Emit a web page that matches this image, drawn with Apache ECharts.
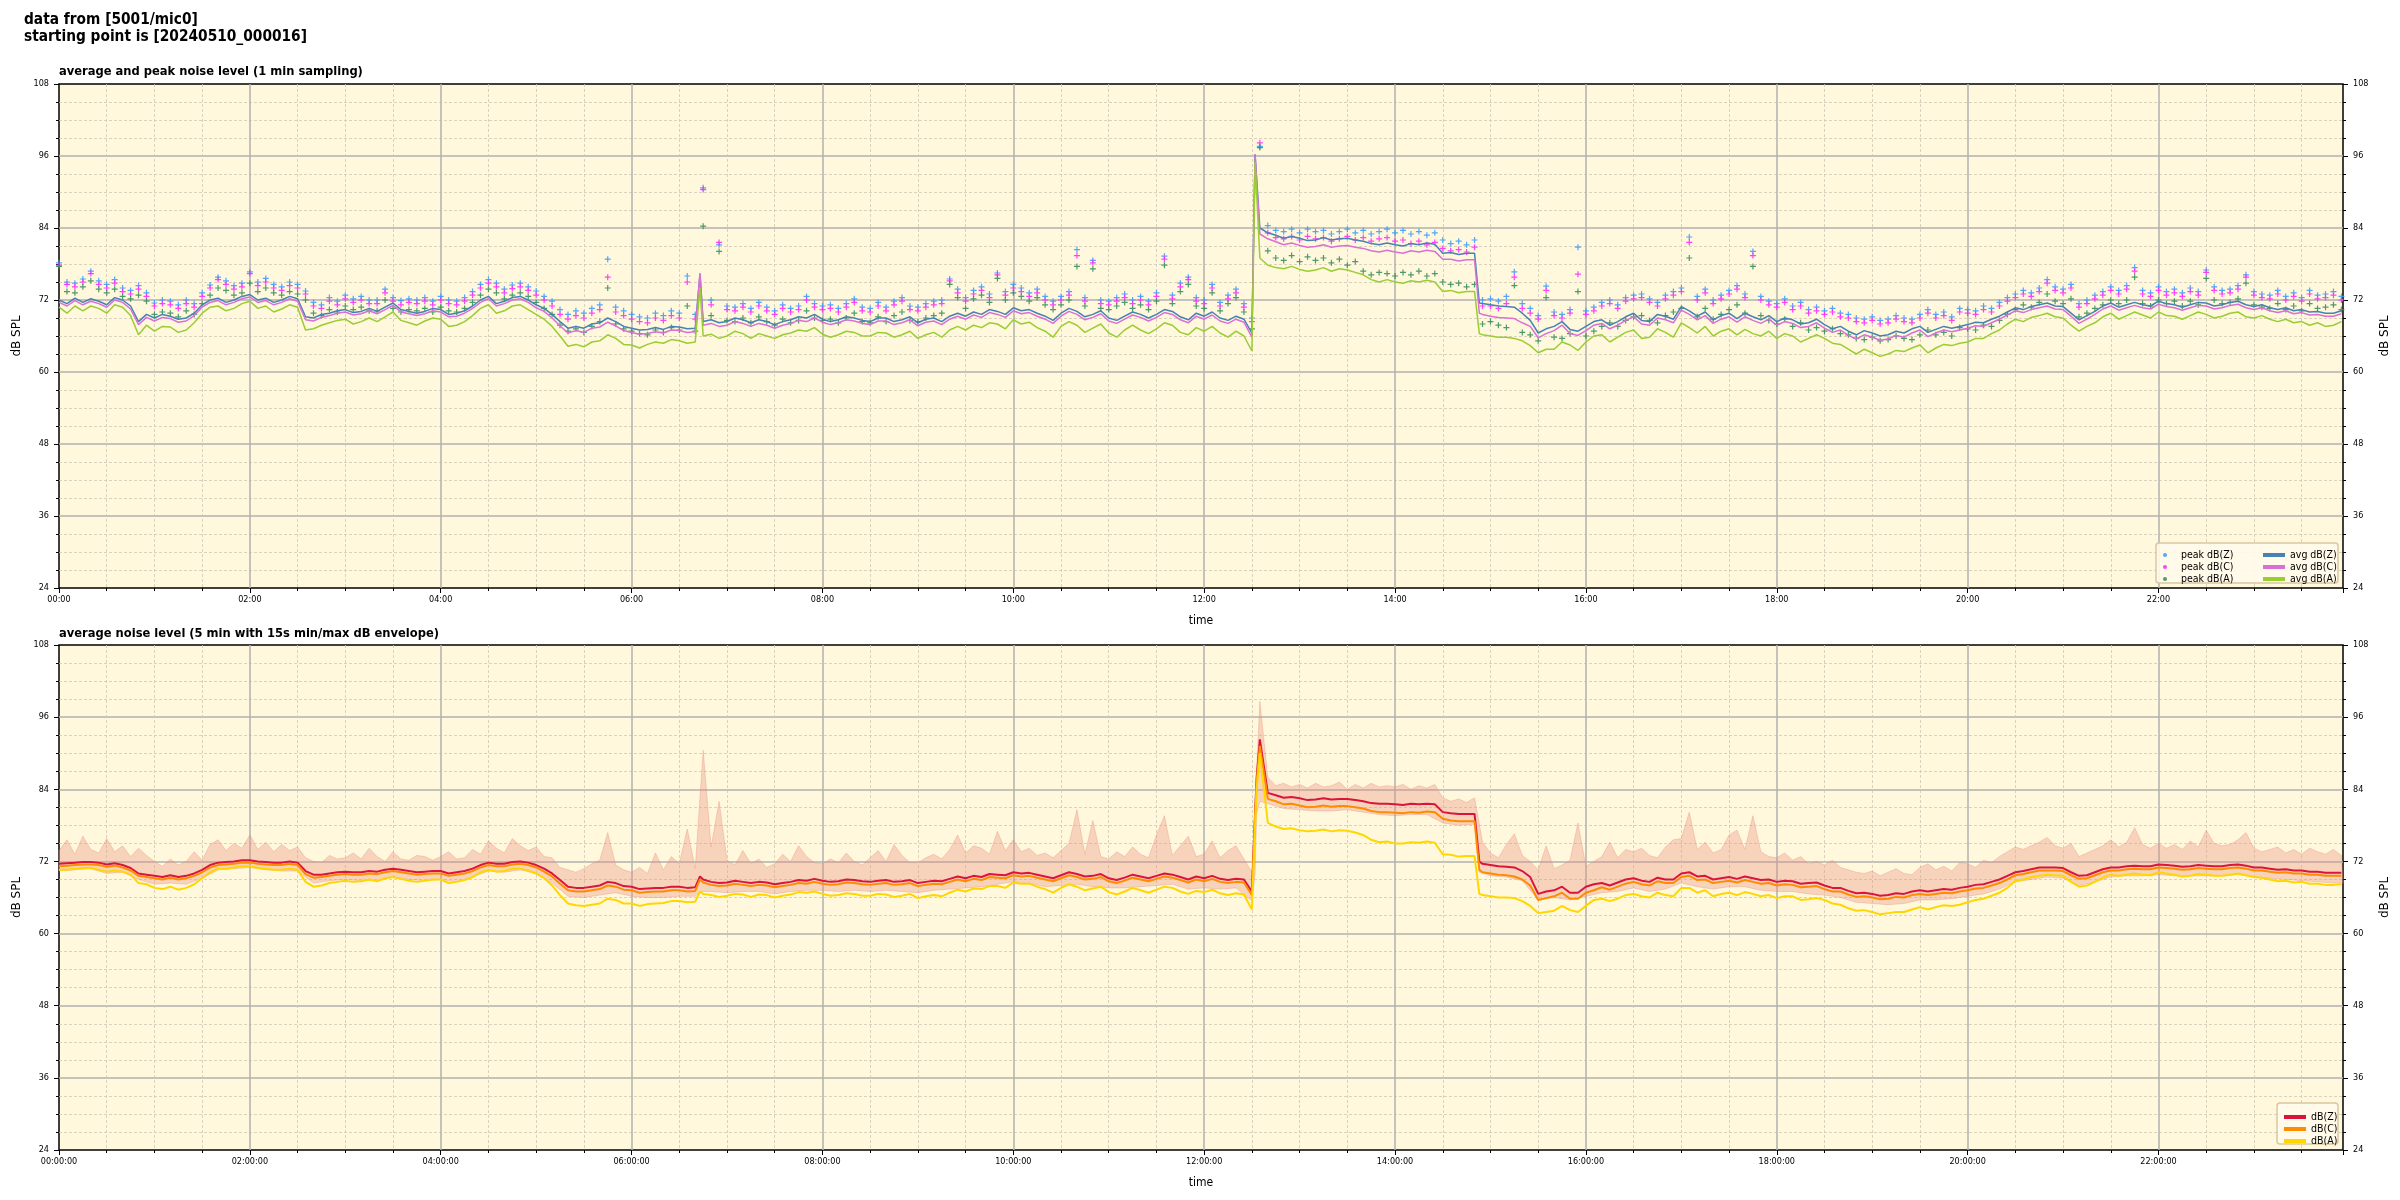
<!DOCTYPE html>
<html><head><meta charset="utf-8">
<script src="https://cdn.jsdelivr.net/npm/echarts@6/dist/echarts.min.js"></script>
<style>html,body{margin:0;padding:0;background:#fff}#c{width:2400px;height:1200px}</style>
</head><body><div id="c"></div>
<script>
// ---- sample times, minutes since 00:00 (every 5 min + a few event samples)
const TT = [0,5,10,15,20,25,30,35,40,45,50,55,
60,65,70,75,80,85,90,95,100,105,110,115,
120,125,130,135,140,145,150,155,160,165,170,175,
180,185,190,195,200,205,210,215,220,225,230,235,
240,245,250,255,260,265,270,275,280,285,290,295,
300,305,310,315,320,325,330,335,340,345,350,355,
360,365,370,375,380,385,390,395,400,403,405,410,415,
420,425,430,435,440,445,450,455,460,465,470,475,
480,485,490,495,500,505,510,515,520,525,530,535,
540,545,550,555,560,565,570,575,580,585,590,595,
600,605,610,615,620,625,630,635,640,645,650,655,
660,665,670,675,680,685,690,695,700,705,710,715,
720,725,730,735,740,745,750,752,753,755,760,765,770,775,
780,785,790,795,800,805,810,815,820,825,830,835,
840,845,850,855,860,865,870,875,880,885,890,893,895,
900,905,910,915,920,925,930,935,940,945,950,955,
960,965,970,975,980,985,990,995,1000,1005,1010,1015,
1020,1025,1030,1035,1040,1045,1050,1055,1060,1065,1070,1075,
1080,1085,1090,1095,1100,1105,1110,1115,1120,1125,1130,1135,
1140,1145,1150,1155,1160,1165,1170,1175,1180,1185,1190,1195,
1200,1205,1210,1215,1220,1225,1230,1235,1240,1245,1250,1255,
1260,1265,1270,1275,1280,1285,1290,1295,1300,1305,1310,1315,
1320,1325,1330,1335,1340,1345,1350,1355,1360,1365,1370,1375,
1380,1385,1390,1395,1400,1405,1410,1415,1420,1425,1430,1435];

// ---- top plot: 1-min averages
const avgZ = [72.0,71.4,72.3,71.6,72.2,71.8,71.2,72.4,72.0,71.0,68.4,69.6,
69.0,69.6,69.3,68.8,69.0,69.8,71.2,72.0,72.3,71.6,72.0,72.6,
72.9,72.0,72.3,71.6,72.0,72.6,72.2,69.2,69.0,69.6,69.8,70.2,
70.4,69.9,70.1,70.6,70.1,70.8,71.5,70.4,70.1,69.8,70.1,70.6,
70.4,69.6,69.8,70.2,71.0,72.0,72.6,71.4,71.8,72.4,72.6,72.0,
71.2,70.6,69.6,68.4,67.3,67.6,67.3,68.0,68.2,69.0,68.4,67.6,
67.3,67.0,67.1,67.4,67.1,67.6,67.5,67.2,67.3,76.3,68.4,68.7,68.2,
68.4,69.0,68.7,68.2,68.7,68.4,67.9,68.4,68.7,69.2,69.0,69.6,
68.8,68.4,68.7,69.2,69.0,68.6,68.4,69.0,69.0,68.4,68.7,69.2,
68.2,68.8,69.0,68.4,69.3,69.8,69.3,70.0,69.6,70.4,70.1,69.6,
70.7,70.2,70.4,69.8,69.3,68.6,69.8,70.6,70.1,69.2,69.6,70.2,
69.0,68.6,69.3,70.0,69.6,69.0,69.6,70.4,70.1,69.2,68.7,69.8,
69.3,70.0,69.0,68.6,69.3,68.8,66.5,96.3,96.5,84.0,83.2,82.8,82.3,82.6,
82.3,81.9,82.0,82.4,82.0,82.2,82.3,82.0,81.8,81.4,81.2,81.5,
81.2,81.0,81.4,81.2,81.5,81.3,79.8,79.9,79.6,79.8,79.8,71.5,71.4,
71.2,71.0,70.9,70.8,69.8,68.6,66.5,67.2,67.6,68.4,67.1,66.8,
67.6,68.4,68.7,67.8,68.4,69.2,69.8,68.6,68.4,69.6,69.3,68.8,
70.9,70.2,69.3,70.0,68.7,69.4,69.8,68.9,69.8,69.2,68.7,69.4,
68.4,69.0,68.7,68.0,68.2,68.8,67.9,67.2,67.6,66.8,66.2,66.9,
66.5,66.0,66.2,66.8,66.5,67.2,67.6,66.6,67.1,67.6,67.3,67.6,
67.9,68.3,68.2,68.8,69.3,70.0,70.7,70.4,70.9,71.2,71.5,71.0,
70.9,69.8,68.7,69.4,70.1,71.0,71.5,70.8,71.2,71.6,71.2,71.0,
71.8,71.4,71.2,70.8,71.2,71.6,71.5,71.0,71.2,71.6,71.8,71.2,
70.9,71.2,70.7,70.4,70.7,70.2,70.4,70.0,70.1,69.8,69.8,70.2];

const avgC = [71.6,71.0,71.9,71.2,71.8,71.4,70.8,72.0,71.6,70.5,67.9,69.1,
68.5,69.1,68.9,68.3,68.5,69.4,70.8,71.6,71.9,71.2,71.6,72.2,
72.5,71.6,71.9,71.2,71.6,72.2,71.8,68.7,68.5,69.1,69.4,69.8,
70.0,69.5,69.7,70.2,69.7,70.4,71.1,70.0,69.7,69.4,69.7,70.2,
70.0,69.2,69.3,69.8,70.6,71.6,72.2,71.0,71.4,72.0,72.2,71.6,
70.7,70.1,69.0,67.7,66.5,66.9,66.6,67.3,67.5,68.3,67.7,66.9,
66.6,66.3,66.4,66.7,66.5,67.0,66.9,66.6,66.7,76.5,67.8,68.1,67.6,
67.8,68.4,68.1,67.6,68.1,67.8,67.3,67.8,68.1,68.6,68.4,69.0,
68.3,67.9,68.2,68.7,68.5,68.1,67.9,68.5,68.5,67.9,68.2,68.7,
67.7,68.3,68.5,67.9,68.8,69.3,68.8,69.5,69.1,69.9,69.6,69.1,
70.2,69.7,69.9,69.3,68.8,68.1,69.3,70.1,69.6,68.7,69.1,69.7,
68.5,68.1,68.8,69.5,69.1,68.5,69.1,69.9,69.6,68.7,68.2,69.3,
68.8,69.5,68.5,68.1,68.8,68.3,65.8,96.2,96.4,83.0,82.2,81.7,81.2,81.5,
81.1,80.8,80.9,81.2,80.8,81.0,81.1,80.8,80.6,80.2,80.0,80.3,
80.0,79.8,80.2,80.0,80.3,80.1,78.8,78.8,78.5,78.7,78.7,69.8,69.6,
69.3,69.1,69.0,68.9,68.2,67.6,65.7,66.4,66.9,67.8,66.4,66.1,
66.9,67.8,68.1,67.2,67.8,68.6,69.2,68.0,67.8,69.0,68.7,68.2,
70.3,69.6,68.7,69.4,68.1,68.8,69.2,68.3,69.2,68.6,68.1,68.8,
67.8,68.4,68.1,67.4,67.6,68.2,67.3,66.6,67.0,66.1,65.5,66.2,
65.8,65.3,65.5,66.1,65.8,66.5,67.0,65.9,66.5,67.0,66.7,67.0,
67.3,67.7,67.6,68.2,68.8,69.5,70.2,69.9,70.4,70.7,71.0,70.5,
70.4,69.3,68.1,68.8,69.6,70.5,71.0,70.3,70.7,71.1,70.7,70.5,
71.3,70.9,70.7,70.3,70.7,71.1,71.0,70.5,70.7,71.1,71.3,70.7,
70.4,70.7,70.2,69.9,70.2,69.7,69.9,69.5,69.6,69.3,69.3,69.7];

const avgA = [70.8,69.8,71.0,70.2,71.0,70.6,69.8,71.2,70.8,69.4,66.2,67.8,
66.8,67.6,67.5,66.6,67.0,68.2,69.8,70.8,71.0,70.2,70.6,71.4,
71.8,70.6,71.0,70.0,70.5,71.2,70.8,67.0,67.2,67.8,68.2,68.6,
68.8,68.0,68.4,69.0,68.4,69.2,70.0,68.6,68.2,67.8,68.5,69.0,
68.8,67.6,67.8,68.4,69.4,70.6,71.2,69.8,70.2,71.0,71.2,70.4,
69.6,68.8,67.6,66.0,64.3,64.6,64.2,65.0,65.2,66.2,65.6,64.6,
64.5,64.0,64.6,65.0,64.8,65.4,65.2,64.8,65.0,74.0,66.0,66.3,65.6,
66.0,66.8,66.4,65.6,66.4,66.0,65.6,66.2,66.5,67.0,66.8,67.4,
66.3,65.8,66.2,66.8,66.6,66.0,66.0,66.6,66.5,65.8,66.2,66.8,
65.6,66.2,66.6,65.8,67.0,67.6,67.0,67.8,67.4,68.2,68.0,67.2,
68.7,68.0,68.3,67.4,66.8,65.8,67.6,68.4,67.8,66.6,67.3,68.0,
66.5,65.8,67.0,67.8,67.0,66.4,67.2,68.2,67.8,66.6,66.2,67.4,
66.8,67.6,66.5,65.8,66.8,66.0,63.5,95.0,95.2,79.0,77.8,77.4,77.2,77.6,
77.1,76.8,77.0,77.4,76.8,77.2,77.0,76.6,76.2,75.4,75.0,75.4,
75.0,74.8,75.2,75.0,75.3,75.0,73.4,73.6,73.2,73.4,73.4,66.4,66.2,
66.0,65.8,65.8,65.6,65.2,64.4,63.2,63.8,63.8,65.0,64.5,63.6,
65.0,66.0,66.2,65.0,65.8,66.6,67.0,65.6,65.8,67.2,66.6,65.8,
68.2,67.4,66.5,67.6,66.0,66.8,67.2,66.2,67.1,66.4,66.0,66.8,
65.6,66.4,66.0,65.0,65.6,66.2,65.6,64.8,64.6,63.8,63.0,63.8,
63.2,62.6,63.0,63.6,63.4,64.0,64.5,63.2,64.0,64.6,64.4,64.8,
65.0,65.6,65.6,66.4,67.0,68.0,68.8,68.4,69.1,69.4,69.8,69.2,
69.0,67.8,66.8,67.6,68.2,69.2,69.8,68.8,69.4,70.0,69.5,69.0,
70.0,69.4,69.3,68.8,69.4,70.0,69.6,69.0,69.3,69.8,70.0,69.2,
69.0,69.4,68.8,68.4,68.8,68.2,68.4,67.8,68.2,67.6,67.8,68.4];

// peak samples (5 min grid)
const PT = [0,5,10,15,20,25,30,35,40,45,50,55,
60,65,70,75,80,85,90,95,100,105,110,115,
120,125,130,135,140,145,150,155,160,165,170,175,
180,185,190,195,200,205,210,215,220,225,230,235,
240,245,250,255,260,265,270,275,280,285,290,295,
300,305,310,315,320,325,330,335,340,345,350,355,
360,365,370,375,380,385,390,395,400,405,410,415,
420,425,430,435,440,445,450,455,460,465,470,475,
480,485,490,495,500,505,510,515,520,525,530,535,
540,545,550,555,560,565,570,575,580,585,590,595,
600,605,610,615,620,625,630,635,640,645,650,655,
660,665,670,675,680,685,690,695,700,705,710,715,
720,725,730,735,740,745,750,755,760,765,770,775,
780,785,790,795,800,805,810,815,820,825,830,835,
840,845,850,855,860,865,870,875,880,885,890,895,
900,905,910,915,920,925,930,935,940,945,950,955,
960,965,970,975,980,985,990,995,1000,1005,1010,1015,
1020,1025,1030,1035,1040,1045,1050,1055,1060,1065,1070,1075,
1080,1085,1090,1095,1100,1105,1110,1115,1120,1125,1130,1135,
1140,1145,1150,1155,1160,1165,1170,1175,1180,1185,1190,1195,
1200,1205,1210,1215,1220,1225,1230,1235,1240,1245,1250,1255,
1260,1265,1270,1275,1280,1285,1290,1295,1300,1305,1310,1315,
1320,1325,1330,1335,1340,1345,1350,1355,1360,1365,1370,1375,
1380,1385,1390,1395,1400,1405,1410,1415,1420,1425,1430,1435];

const peakZ = [78.2,75.0,74.8,75.5,76.8,75.2,74.6,75.4,74.0,73.6,74.4,73.2,
71.5,72.0,71.8,71.2,72.0,71.4,73.2,74.5,75.8,75.2,74.4,74.8,
76.7,75.0,75.6,74.6,74.2,75.0,74.6,73.5,71.6,71.2,72.4,71.8,
72.8,72.2,72.6,72.0,72.0,73.8,72.4,71.9,72.2,72.0,72.4,71.8,
72.6,72.0,71.8,72.4,73.4,74.6,75.4,74.8,73.8,74.5,74.8,74.2,
73.5,72.6,71.8,70.4,69.6,70.2,69.8,70.6,71.2,78.8,70.8,70.2,
69.6,69.2,69.0,69.8,69.4,70.2,69.8,76.0,69.6,90.7,72.0,81.2,
71.0,70.8,71.4,70.6,71.6,70.8,70.2,71.2,70.6,71.0,72.6,71.4,
71.0,71.2,70.6,71.4,72.2,70.8,70.6,71.6,70.8,71.8,72.4,71.0,
70.8,71.4,71.8,72.0,75.5,73.8,72.4,73.6,74.2,73.0,76.5,73.4,
74.6,74.0,73.2,73.8,72.6,71.8,72.6,73.4,80.4,72.4,78.6,72.0,
71.8,72.4,73.0,72.0,72.6,71.8,73.2,79.3,72.8,74.8,75.8,72.4,
72.0,74.6,71.6,72.8,73.8,71.4,69.0,97.6,84.4,83.6,83.4,83.8,
83.2,83.8,83.4,83.6,83.0,83.4,83.8,83.2,83.6,83.0,83.4,83.8,
83.2,83.6,83.0,83.4,82.8,83.2,82.0,81.4,81.8,81.2,82.0,72.0,
72.2,71.8,72.6,76.7,71.4,70.6,69.4,74.3,70.0,69.6,70.4,80.8,
70.2,70.8,71.6,72.0,71.2,72.4,72.8,73.0,72.2,71.6,72.8,73.4,
74.0,82.5,72.6,73.8,72.0,72.8,73.6,74.4,73.0,80.1,72.6,71.8,
71.4,72.2,71.0,71.6,70.4,70.8,70.2,70.6,69.8,69.6,69.0,68.8,
69.2,68.6,68.8,69.4,69.0,68.8,69.6,70.4,69.6,70.0,69.2,70.6,
70.4,70.2,71.0,70.6,71.6,72.4,73.0,73.6,73.2,74.0,75.4,74.2,
73.8,74.6,71.4,72.0,72.8,73.4,74.2,73.6,74.4,77.4,73.6,73.2,
74.2,73.4,73.8,73.2,74.0,73.4,77.0,74.2,73.6,73.8,74.4,76.2,
73.4,73.0,72.8,73.6,72.6,73.2,72.4,73.6,72.8,73.0,73.4,72.6];

const peakC = [77.8,74.6,74.2,75.0,76.4,74.6,74.0,74.8,73.4,73.0,73.8,72.6,
71.0,71.4,71.2,70.6,71.4,70.8,72.6,74.0,75.4,74.6,73.8,74.2,
76.4,74.4,75.0,74.0,73.6,74.4,74.0,73.0,71.0,70.6,71.8,71.2,
72.2,71.6,72.0,71.4,71.4,73.2,71.8,71.2,71.6,71.4,71.8,71.2,
72.0,71.4,71.2,71.8,72.8,74.0,74.8,74.2,73.2,73.9,74.2,73.6,
72.8,72.0,71.0,69.6,68.8,69.4,69.0,69.8,70.4,75.8,70.0,69.4,
68.8,68.4,68.2,69.0,68.6,69.4,69.0,75.0,68.8,90.4,71.2,81.6,
70.4,70.2,70.8,70.0,71.0,70.2,69.6,70.6,70.0,70.4,72.0,70.8,
70.4,70.6,70.0,70.8,71.6,70.2,70.0,71.0,70.2,71.2,71.8,70.4,
70.2,70.8,71.2,71.4,75.2,73.2,71.8,73.0,73.6,72.4,76.2,72.8,
74.0,73.4,72.6,73.2,72.0,71.2,72.0,72.8,79.4,71.8,78.2,71.4,
71.2,71.8,72.4,71.4,72.0,71.2,72.6,78.8,72.2,74.2,75.4,71.8,
71.4,74.0,71.0,72.2,73.2,70.8,68.4,98.2,83.2,82.4,82.2,82.6,
82.0,82.6,82.2,82.4,81.8,82.2,82.6,82.0,82.4,81.8,82.2,82.4,
81.8,82.0,81.4,81.8,81.2,81.6,80.6,80.2,80.4,80.0,80.8,71.0,
71.0,70.6,71.4,75.8,70.6,69.8,68.8,73.6,69.4,69.0,69.8,76.3,
69.6,70.2,71.0,71.4,70.6,71.8,72.2,72.4,71.6,71.0,72.2,72.8,
73.4,81.6,72.0,73.2,71.4,72.2,73.0,73.8,72.4,79.4,72.0,71.2,
70.8,71.6,70.4,71.0,69.8,70.2,69.6,70.0,69.2,69.0,68.4,68.2,
68.6,68.0,68.2,68.8,68.4,68.2,69.0,69.8,69.0,69.4,68.6,70.0,
69.8,69.6,70.4,70.0,71.0,71.8,72.4,73.0,72.6,73.4,74.8,73.6,
73.2,74.0,70.8,71.4,72.2,72.8,73.6,73.0,73.8,76.8,73.0,72.6,
73.6,72.8,73.2,72.6,73.4,72.8,76.6,73.6,73.0,73.2,73.8,75.8,
72.8,72.4,72.2,73.0,72.0,72.6,71.8,73.0,72.2,72.4,72.8,72.0];

const peakA = [77.6,73.4,73.2,74.2,75.2,73.8,73.2,73.8,72.6,72.2,72.8,71.8,
69.6,70.0,69.8,69.2,70.2,69.6,71.4,72.8,74.0,73.6,72.8,73.2,
74.8,73.4,74.0,73.2,72.8,73.4,73.0,72.0,69.8,69.4,70.4,70.0,
71.0,70.4,70.8,70.2,70.2,72.0,70.6,70.0,70.4,70.2,70.6,70.0,
70.8,70.2,70.0,70.6,71.6,72.8,73.8,73.2,72.2,72.8,73.2,72.6,
71.6,70.6,69.6,67.8,66.8,67.2,66.6,67.6,68.4,74.0,68.0,67.2,
66.8,66.4,66.2,67.0,66.6,67.4,67.0,71.0,66.8,84.3,69.4,80.1,
68.6,68.4,69.0,68.2,69.2,68.4,67.8,68.8,68.2,68.6,70.2,69.0,
68.6,68.8,68.2,69.0,69.8,68.4,68.2,69.2,68.4,69.4,70.0,68.6,
68.4,69.0,69.4,69.8,74.6,72.4,70.6,72.2,72.8,71.6,75.6,72.0,
73.2,72.6,71.8,72.4,71.2,70.4,71.2,72.0,77.6,71.0,77.2,70.6,
70.4,71.0,71.6,70.6,71.2,70.4,71.8,77.8,71.4,73.4,74.6,71.0,
70.6,73.2,70.2,71.4,72.4,70.0,67.2,97.4,80.2,79.0,78.6,79.4,
78.4,79.2,78.6,79.0,78.2,78.8,77.8,78.4,76.8,76.2,76.6,76.4,
76.0,76.6,76.2,76.8,76.0,76.4,75.0,74.6,74.8,74.2,74.6,68.0,
68.4,67.8,67.4,74.4,66.6,66.2,65.2,72.4,65.8,65.6,66.4,73.4,
66.0,66.8,67.6,68.2,67.6,68.6,69.2,69.4,68.6,68.2,69.4,70.0,
70.6,79.0,69.2,70.6,68.8,69.6,70.4,71.2,69.8,77.6,69.4,68.6,
68.0,68.8,67.6,68.2,67.0,67.4,66.8,67.2,66.4,66.2,65.6,65.4,
65.8,65.2,65.4,66.0,65.6,65.4,66.2,67.0,66.2,66.6,66.0,67.4,
67.2,67.0,67.8,67.6,68.6,69.6,70.4,71.2,70.8,71.6,73.0,71.8,
71.4,72.2,69.2,69.8,70.6,71.2,72.0,71.4,72.0,75.8,71.4,71.0,
72.0,71.4,71.8,71.0,71.8,71.2,75.6,72.0,71.4,71.6,72.2,74.8,
71.2,70.8,70.6,71.4,70.4,71.0,70.2,71.4,70.6,70.8,71.2,70.4];

// ---- bottom plot: 5-min averages on TT
const dbZ = [71.6,71.7,71.8,71.9,71.9,71.8,71.5,71.7,71.4,70.9,70.0,69.8,
69.6,69.4,69.7,69.4,69.6,70.0,70.6,71.4,71.8,71.9,72.0,72.2,
72.2,72.0,71.9,71.8,71.8,72.0,71.8,70.4,69.8,69.8,70.0,70.2,
70.3,70.2,70.2,70.4,70.3,70.6,70.8,70.6,70.4,70.2,70.3,70.4,
70.4,70.0,70.2,70.4,70.8,71.4,71.8,71.6,71.6,71.9,72.0,71.8,
71.4,70.8,70.0,68.9,67.8,67.6,67.6,67.8,68.0,68.6,68.4,67.9,
67.8,67.4,67.5,67.6,67.6,67.8,67.8,67.6,67.7,69.5,69.0,68.6,68.4,
68.5,68.8,68.6,68.4,68.6,68.5,68.2,68.4,68.6,68.9,68.8,69.1,
68.8,68.6,68.7,69.0,68.9,68.7,68.6,68.8,68.9,68.6,68.7,68.9,
68.4,68.6,68.8,68.7,69.1,69.5,69.2,69.6,69.4,69.9,69.8,69.7,
70.2,70.0,70.1,69.8,69.5,69.2,69.7,70.2,69.9,69.5,69.6,69.9,
69.2,68.9,69.3,69.8,69.5,69.2,69.6,70.0,69.8,69.4,69.0,69.5,
69.2,69.6,69.1,68.9,69.1,69.0,67.0,80.0,86.0,92.3,83.4,83.0,82.6,82.7,
82.5,82.2,82.3,82.5,82.3,82.4,82.4,82.2,82.0,81.7,81.6,81.6,
81.5,81.4,81.6,81.5,81.6,81.5,80.2,80.0,79.9,79.9,79.9,72.0,71.6,
71.4,71.2,71.1,71.0,70.4,69.4,66.6,67.0,67.2,67.8,66.8,66.8,
67.8,68.2,68.4,68.0,68.5,69.0,69.2,68.8,68.6,69.3,69.0,69.0,
70.0,70.2,69.5,69.6,69.0,69.2,69.4,69.1,69.5,69.2,68.9,69.0,
68.6,68.8,68.7,68.3,68.4,68.5,68.0,67.6,67.6,67.1,66.7,66.8,
66.6,66.3,66.4,66.7,66.6,67.0,67.2,67.0,67.2,67.4,67.3,67.6,
67.8,68.1,68.2,68.6,69.0,69.6,70.2,70.4,70.7,71.0,71.0,71.0,
70.9,70.2,69.6,69.7,70.2,70.7,71.0,71.0,71.2,71.3,71.2,71.2,
71.5,71.4,71.3,71.1,71.2,71.4,71.3,71.2,71.2,71.4,71.5,71.3,
71.0,71.0,70.8,70.6,70.7,70.5,70.5,70.3,70.3,70.1,70.1,70.1];

const dbC = [71.2,71.3,71.4,71.5,71.5,71.4,71.1,71.3,71.0,70.5,69.6,69.4,
69.2,69.0,69.3,69.0,69.2,69.6,70.2,71.0,71.4,71.5,71.6,71.8,
71.8,71.6,71.5,71.4,71.4,71.6,71.4,69.9,69.3,69.4,69.6,69.8,
69.9,69.8,69.8,70.0,69.9,70.2,70.4,70.2,70.0,69.8,69.9,70.0,
70.0,69.6,69.8,70.0,70.4,71.0,71.4,71.2,71.2,71.5,71.6,71.4,
71.0,70.3,69.5,68.3,67.2,67.0,67.0,67.2,67.4,68.0,67.8,67.3,
67.2,66.8,66.9,67.0,67.0,67.2,67.2,67.0,67.1,69.0,68.5,68.1,67.9,
68.0,68.3,68.1,67.9,68.1,68.0,67.7,67.9,68.1,68.4,68.3,68.6,
68.3,68.1,68.2,68.5,68.4,68.2,68.1,68.3,68.4,68.1,68.2,68.4,
67.9,68.1,68.3,68.2,68.6,69.0,68.7,69.1,68.9,69.4,69.3,69.2,
69.7,69.5,69.6,69.3,69.0,68.7,69.2,69.7,69.4,69.0,69.1,69.4,
68.7,68.4,68.8,69.3,69.0,68.7,69.1,69.5,69.3,68.9,68.5,69.0,
68.7,69.1,68.6,68.4,68.6,68.5,66.4,79.5,85.4,91.2,82.4,82.0,81.5,81.6,
81.3,81.0,81.1,81.3,81.1,81.2,81.2,81.0,80.8,80.4,80.2,80.2,
80.1,80.0,80.2,80.1,80.3,80.2,79.1,78.8,78.7,78.7,78.7,70.6,70.2,
70.0,69.8,69.7,69.5,69.0,68.0,65.6,65.9,66.2,66.8,65.8,65.8,
66.8,67.2,67.7,67.3,67.8,68.3,68.6,68.2,68.0,68.7,68.4,68.4,
69.4,69.6,68.9,69.0,68.4,68.6,68.8,68.5,68.9,68.6,68.3,68.4,
68.0,68.2,68.1,67.7,67.8,67.9,67.4,67.0,67.0,66.5,66.1,66.2,
66.0,65.7,65.8,66.1,66.0,66.4,66.6,66.4,66.6,66.8,66.7,67.0,
67.2,67.5,67.6,68.0,68.4,69.0,69.7,69.9,70.2,70.5,70.5,70.5,
70.4,69.7,69.1,69.2,69.7,70.2,70.5,70.5,70.7,70.8,70.7,70.7,
71.0,70.9,70.8,70.6,70.7,70.9,70.8,70.7,70.7,70.9,71.0,70.8,
70.5,70.5,70.3,70.1,70.2,70.0,70.0,69.8,69.8,69.6,69.6,69.6];

const dbA = [70.6,70.6,70.8,70.9,70.9,70.6,70.3,70.5,70.3,69.8,68.4,68.2,
67.6,67.4,67.8,67.3,67.6,68.2,69.2,70.2,70.8,70.8,71.0,71.2,
71.2,70.9,70.8,70.6,70.6,70.8,70.6,68.6,67.8,68.0,68.4,68.6,
68.8,68.6,68.7,69.0,68.7,69.2,69.4,69.1,68.8,68.6,68.8,69.0,
69.0,68.4,68.6,68.9,69.4,70.2,70.6,70.3,70.4,70.8,70.8,70.5,
70.0,69.2,68.0,66.4,65.0,64.7,64.6,64.8,65.0,65.8,65.6,65.0,
65.0,64.6,64.9,65.0,65.1,65.4,65.4,65.2,65.3,67.0,66.6,66.4,66.1,
66.3,66.6,66.5,66.1,66.5,66.4,66.0,66.3,66.5,66.9,66.8,67.0,
66.6,66.3,66.4,66.7,66.6,66.3,66.3,66.6,66.5,66.1,66.3,66.6,
65.9,66.2,66.4,66.2,66.8,67.3,67.0,67.5,67.4,67.9,67.9,67.6,
68.5,68.3,68.3,67.8,67.4,66.8,67.6,68.2,67.8,67.2,67.5,67.8,
66.9,66.5,67.0,67.6,67.2,66.8,67.3,67.8,67.6,67.0,66.6,67.1,
66.9,67.3,66.7,66.4,66.7,66.5,64.0,78.0,84.0,90.0,78.4,77.8,77.4,77.5,
77.2,77.0,77.1,77.3,77.0,77.2,77.1,76.8,76.4,75.6,75.2,75.3,
75.0,75.0,75.2,75.1,75.3,75.1,73.2,73.1,72.8,72.9,72.9,66.6,66.4,
66.2,66.0,66.0,65.9,65.4,64.6,63.4,63.6,63.8,64.6,63.9,63.6,
64.6,65.6,65.8,65.4,65.8,66.4,66.6,66.2,66.0,66.8,66.4,66.2,
67.6,67.6,66.8,67.2,66.2,66.6,66.8,66.4,66.9,66.6,66.2,66.4,
65.9,66.2,66.2,65.6,65.7,65.9,65.6,65.0,64.8,64.2,63.8,63.9,
63.6,63.2,63.4,63.6,63.6,64.0,64.4,64.0,64.4,64.7,64.6,64.8,
65.2,65.6,65.8,66.3,66.8,67.6,68.8,69.0,69.4,69.6,69.8,69.7,
69.6,68.6,67.8,68.0,68.6,69.3,69.8,69.6,69.8,70.0,69.8,69.7,
70.2,70.0,69.8,69.5,69.6,69.9,69.8,69.6,69.6,69.8,70.0,69.7,
69.4,69.3,69.0,68.7,68.8,68.5,68.6,68.3,68.3,68.1,68.1,68.2];

// envelope upper edge on the 5-min grid (PT)
const envMax = [73.8,75.6,73.2,76.2,74.0,73.4,75.8,73.6,74.6,72.8,74.2,73.0,
72.0,71.2,72.4,71.4,72.0,73.6,72.2,74.8,75.6,73.8,75.0,74.2,
76.4,74.0,75.2,73.6,74.8,73.8,74.4,72.6,72.0,71.8,73.0,72.4,
72.6,73.4,72.4,74.2,72.8,72.0,73.6,72.4,72.2,73.0,72.8,72.2,
72.8,73.6,72.4,72.6,74.0,73.2,75.4,74.2,73.4,75.8,74.6,73.8,
74.4,72.8,72.6,71.0,70.6,70.2,70.8,71.6,72.2,76.8,71.4,70.6,
70.2,71.0,70.0,73.4,70.6,72.8,71.6,77.4,70.8,90.5,74.4,82.0,
72.2,71.4,73.8,71.6,72.4,71.0,71.6,73.2,72.0,74.6,72.8,71.8,
71.6,72.4,71.8,73.4,72.0,71.4,72.6,73.8,72.0,74.8,73.0,71.8,
71.8,72.6,73.2,72.4,74.0,76.4,73.4,74.6,74.2,73.2,77.0,73.8,
75.6,73.6,74.2,73.0,73.4,72.6,73.8,75.0,80.6,73.2,78.8,72.8,
72.4,73.6,72.8,74.4,73.2,72.6,76.4,79.6,73.0,74.6,76.2,72.8,
73.2,75.4,72.6,73.8,74.6,72.4,70.2,98.6,86.0,84.6,85.0,84.4,
84.8,84.2,85.0,84.4,84.6,85.2,84.0,84.8,84.2,85.0,84.4,84.6,
84.4,84.8,84.0,84.6,84.2,84.8,82.6,82.0,82.4,81.8,82.6,75.2,
73.4,72.6,74.8,76.6,73.0,72.0,70.6,74.6,70.8,71.4,72.2,78.4,
71.2,72.0,72.8,75.2,72.6,74.0,73.6,74.2,73.0,72.6,74.4,75.6,
75.8,80.2,74.0,75.2,73.4,74.0,76.4,77.2,74.0,79.6,73.6,72.8,
72.6,73.4,72.2,72.8,71.6,72.0,71.4,72.2,71.0,70.6,70.2,70.0,
70.4,69.6,70.2,70.8,70.0,69.8,71.0,71.6,70.6,71.2,70.4,71.8,
71.6,71.0,72.2,71.8,72.8,73.6,74.4,74.0,74.6,75.2,76.0,74.6,
74.2,75.0,72.8,73.4,74.0,74.6,75.6,74.4,75.2,77.6,74.8,74.2,
75.0,74.2,74.8,74.0,75.4,74.4,77.2,75.0,74.6,74.8,75.6,76.8,
74.2,73.6,74.0,74.4,73.4,74.0,73.2,74.2,73.6,73.2,74.0,73.0];

// envelope lower edge, read every 10 min (+ events)
const ET = [0,10,20,30,40,50,60,70,80,90,
100,110,120,130,140,150,160,170,180,190,
200,210,220,230,240,250,260,270,280,290,
300,310,320,330,340,350,360,370,380,390,
400,403,410,420,430,440,450,460,470,480,
490,500,510,520,530,540,550,560,570,580,
590,600,610,620,630,640,650,660,670,680,
690,700,710,720,730,740,750,752,753,755,
760,770,780,790,800,810,820,830,840,850,
860,870,880,890,893,900,910,920,930,940,
950,960,970,980,990,1000,1010,1020,1030,1040,
1050,1060,1070,1080,1090,1100,1110,1120,1130,1140,
1150,1160,1170,1180,1190,1200,1210,1220,1230,1240,
1250,1260,1270,1280,1290,1300,1310,1320,1330,1340,
1350,1360,1370,1380,1390,1400,1410,1420,1430,1436];

const envMin = [70.4,70.6,70.8,70.0,70.2,69.0,68.2,68.4,68.2,69.2,
70.6,70.8,71.0,70.6,70.4,70.4,68.4,68.8,69.0,68.8,
68.8,69.4,69.0,68.8,69.0,68.6,69.4,70.4,70.2,70.6,
70.0,68.4,66.2,66.0,66.4,66.8,66.2,66.0,66.0,66.2,
66.2,67.0,67.0,66.8,67.0,67.0,66.6,67.0,67.2,67.2,
67.0,67.2,67.0,67.2,67.0,66.8,67.2,67.4,67.6,67.8,
68.2,68.6,68.4,67.8,68.0,68.2,67.8,67.6,67.6,67.8,
68.0,68.2,67.4,67.6,67.4,67.6,65.4,70.0,80.0,82.0,
81.6,80.8,80.6,80.4,80.4,80.6,80.2,79.8,79.6,79.8,
79.8,78.4,78.0,78.2,70.2,69.6,69.4,68.8,65.6,66.0,
65.6,66.2,66.8,67.0,67.6,67.0,67.4,68.4,67.8,67.4,
67.8,67.8,67.2,67.0,67.0,66.6,66.4,66.0,65.2,65.0,
64.8,65.0,65.6,65.6,65.8,66.2,66.6,67.4,68.6,69.0,
69.4,69.2,68.0,68.6,69.4,69.6,69.6,69.8,69.6,69.6,
69.6,69.6,69.8,69.4,69.2,69.0,68.8,68.6,68.4,68.4];

const yTicks = {min: 24, max: 108, interval: 12};
const X_MAX = 1436;

const COND = "'DejaVu Sans Condensed','DejaVu Sans',sans-serif";
const REG = "'DejaVu Sans',sans-serif";

function pad(n){return String(n).padStart(2,'0');}
function hhmm(v){const h=Math.floor(v/60), m=Math.round(v%60); return pad(h)+':'+pad(m);}
function zip(xs, ys){return xs.map((x,i)=>[x, ys[i]]);}

const plus = 'path://M2,0H3V2H5V3H3V5H2V3H0V2H2Z';
const BG = '#fff8dc';

function xAxis(grid, withSec){
  return {
    type:'value', gridIndex:grid, min:0, max:X_MAX, interval:120,
    name:'time', nameLocation:'middle', nameGap:27,
    nameTextStyle:{fontSize:12, color:'#000', fontFamily:COND},
    axisLine:{show:false},
    axisTick:{show:true, length:5, lineStyle:{color:'#000', width:1}},
    minorTick:{show:true, splitNumber:4, length:3, lineStyle:{color:'#000', width:1}},
    axisLabel:{margin:7, fontSize:9, color:'#000', fontFamily:COND,
      formatter:v=> (Math.abs(v%120)<1e-6 ? hhmm(v)+(withSec?':00':'') : '')},
    splitLine:{show:true, showMinLine:false, showMaxLine:false, lineStyle:{color:'#b0b0b0', width:1.5}},
    minorSplitLine:{show:true, lineStyle:{color:'#cfc8b8', width:0.8, type:[3,2]}}
  };
}
function yAxis(grid, right){
  return {
    type:'value', gridIndex:grid, position: right?'right':'left',
    min:yTicks.min, max:yTicks.max, interval:yTicks.interval,
    name:'dB SPL', nameLocation:'middle', nameRotate:90, nameGap: right?28:32,
    nameTextStyle:{fontSize:12, color:'#000', fontFamily:REG},
    axisLine:{show:false},
    axisTick:{show:true, length:5, lineStyle:{color:'#000', width:1}},
    minorTick:{show:true, splitNumber:4, length:3, lineStyle:{color:'#000', width:1}},
    axisLabel:{margin:10, fontSize:9, color:'#000', fontFamily:COND},
    splitLine:{show:!right, showMinLine:false, showMaxLine:false, lineStyle:{color:'#b0b0b0', width:1.5}},
    minorSplitLine:{show:!right, lineStyle:{color:'#cfc8b8', width:0.8, type:[3,2]}}
  };
}

function lineS(name, xi, yi, xs, ys, color, w, z){
  return {name, type:'line', xAxisIndex:xi, yAxisIndex:yi, data:zip(xs, ys),
    showSymbol:false, symbol:'none', lineStyle:{color, width:w}, itemStyle:{color},
    z:z||3, silent:true, animation:false};
}
function scatS(name, ys, color){
  return {name, type:'scatter', xAxisIndex:0, yAxisIndex:0, data:zip(PT, ys),
    symbol:plus, symbolSize:6, itemStyle:{color, opacity:0.85}, z:2, silent:true, animation:false};
}

const envelope = {
  name:'envelope', type:'custom', xAxisIndex:1, yAxisIndex:2, data:[[ET[0], envMin[0]]],
  silent:true, z:1, animation:false,
  renderItem:(params, api)=>{
    const pts = [];
    for (let i=0;i<PT.length;i++) pts.push(api.coord([PT[i], envMax[i]]));
    for (let i=ET.length-1;i>=0;i--) pts.push(api.coord([ET[i], envMin[i]]));
    return {type:'polygon', shape:{points:pts},
      style:{fill:'rgba(232,140,125,0.34)', stroke:'rgba(232,140,125,0.45)', lineWidth:0.8}};
  }
};

const legendText = {fontSize:10.5, lineHeight:12, color:'#000', fontFamily:COND};

const option = {
  backgroundColor:'#ffffff',
  animation:false,
  title:[
    {text:'data from [5001/mic0]\nstarting point is [20240510_000016]', left:19, top:7,
      textStyle:{fontSize:15.3, fontWeight:'bold', lineHeight:17, color:'#000', fontFamily:COND}},
    {text:'average and peak noise level (1 min sampling)', left:54, top:60,
      textStyle:{fontSize:12.8, fontWeight:'bold', color:'#000', fontFamily:COND}},
    {text:'average noise level (5 min with 15s min/max dB envelope)', left:54, top:622,
      textStyle:{fontSize:12.8, fontWeight:'bold', color:'#000', fontFamily:COND}}
  ],
  grid:[
    {left:59, top:84, width:2284, height:504, show:true, backgroundColor:BG, borderColor:'#000', borderWidth:1.5, outerBoundsMode:'none'},
    {left:59, top:645, width:2284, height:505, show:true, backgroundColor:BG, borderColor:'#000', borderWidth:1.5, outerBoundsMode:'none'}
  ],
  xAxis:[xAxis(0,false), xAxis(1,true)],
  yAxis:[yAxis(0,false), yAxis(0,true), yAxis(1,false), yAxis(1,true)],
  legend:[
    {orient:'vertical', left:2158, top:544, itemWidth:22, itemHeight:4, itemGap:0, selectedMode:false,
      textStyle:legendText, z:10,
      data:[{name:'peak dB(Z)', icon:'circle'},{name:'peak dB(C)', icon:'circle'},{name:'peak dB(A)', icon:'circle'}]},
    {orient:'vertical', left:2258, top:544, itemWidth:22, itemHeight:4, itemGap:0, selectedMode:false,
      textStyle:legendText, z:10,
      data:[{name:'avg dB(Z)', icon:'rect'},{name:'avg dB(C)', icon:'rect'},{name:'avg dB(A)', icon:'rect'}]},
    {orient:'vertical', left:2279, top:1106, itemWidth:22, itemHeight:4, itemGap:0, selectedMode:false,
      textStyle:legendText, z:10,
      data:[{name:'dB(Z)', icon:'rect'},{name:'dB(C)', icon:'rect'},{name:'dB(A)', icon:'rect'}]}
  ],
  graphic:[
    {type:'rect', z:8, shape:{x:2156, y:543, width:182, height:40, r:3},
      style:{fill:'rgba(255,250,234,0.9)', stroke:'#dcc6a0', lineWidth:1.5}},
    {type:'rect', z:8, shape:{x:2277, y:1103, width:61, height:41, r:3},
      style:{fill:'rgba(255,250,234,0.9)', stroke:'#dcc6a0', lineWidth:1.5}}
  ],
  series:[
    scatS('peak dB(Z)', peakZ, '#3399ff'),
    scatS('peak dB(C)', peakC, '#ff22ff'),
    scatS('peak dB(A)', peakA, '#2e8b57'),
    lineS('avg dB(Z)', 0, 0, TT, avgZ, '#4682b4', 1.5),
    lineS('avg dB(C)', 0, 0, TT, avgC, '#da70d6', 1.5),
    lineS('avg dB(A)', 0, 0, TT, avgA, '#9acd32', 1.5),
    envelope,
    lineS('dB(Z)', 1, 2, TT, dbZ, '#dc143c', 2),
    lineS('dB(C)', 1, 2, TT, dbC, '#ff8c00', 2),
    lineS('dB(A)', 1, 2, TT, dbA, '#ffd700', 2)
  ]
};

const chart = echarts.init(document.getElementById('c'), null, {renderer:'canvas'});
chart.setOption(option);
</script>
</body></html>
